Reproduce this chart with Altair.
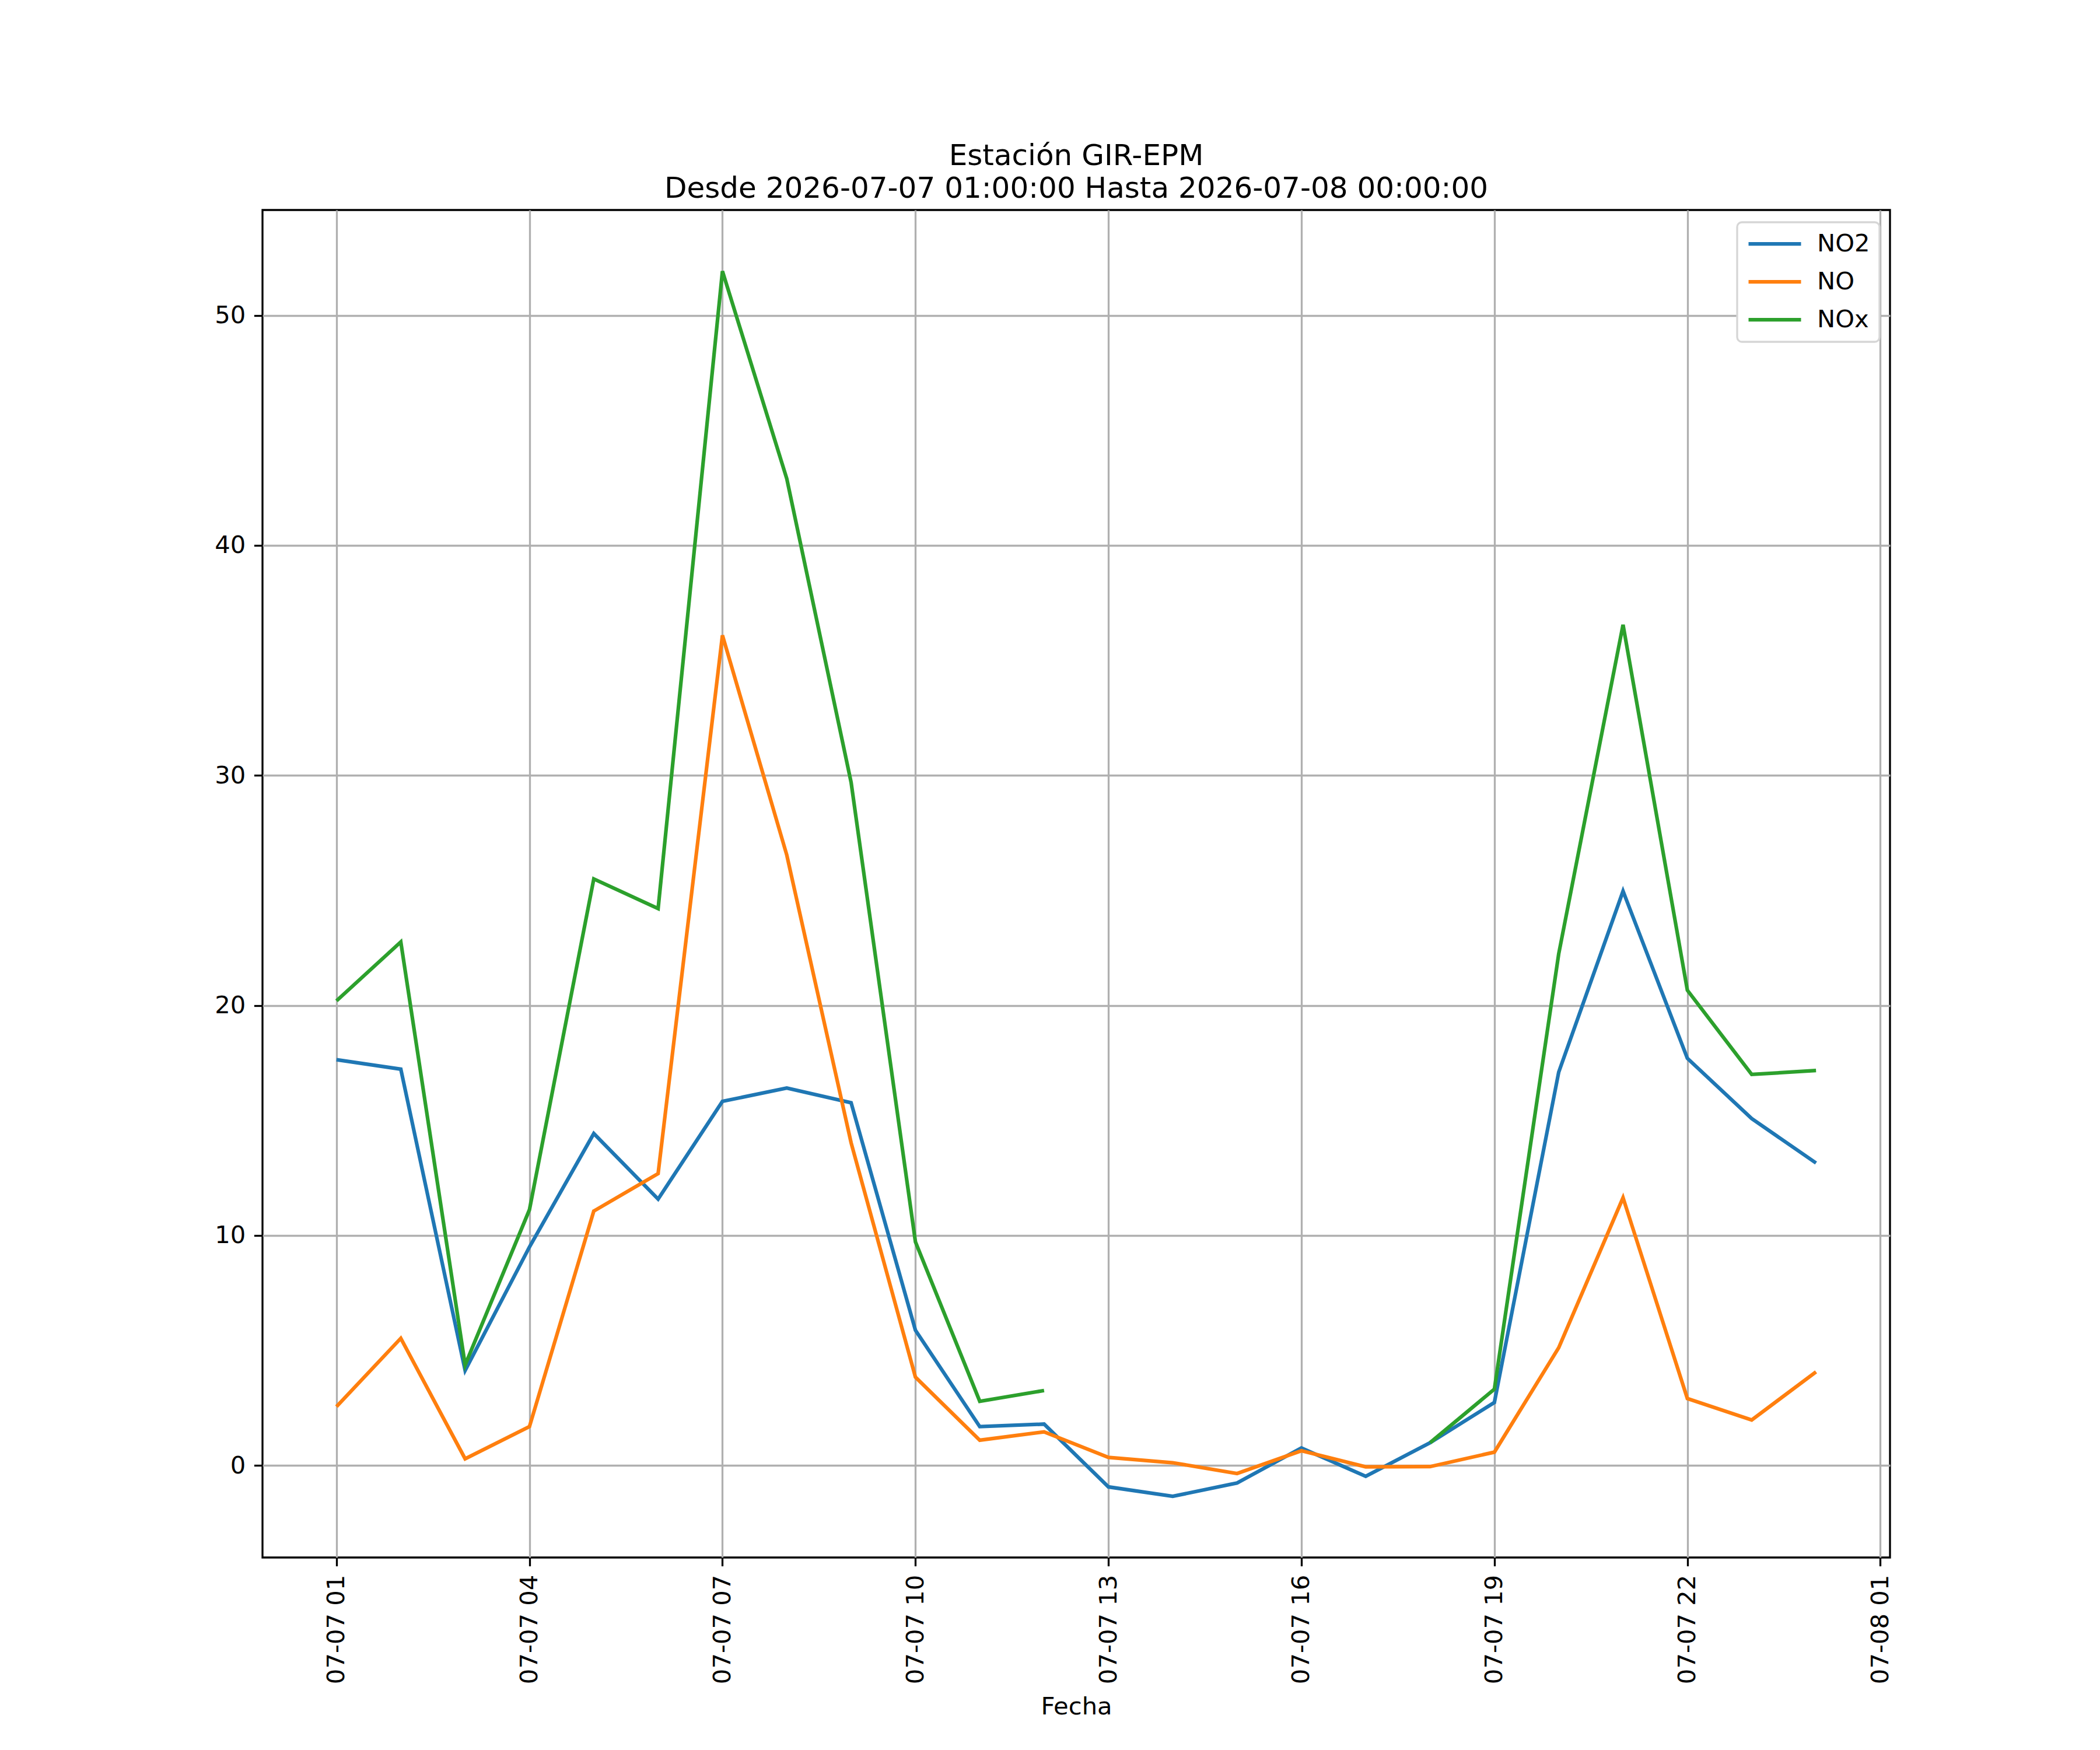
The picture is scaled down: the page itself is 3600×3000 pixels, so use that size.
import altair as alt
import pandas as pd

fechas = [
    "2026-07-07T01:00:00", "2026-07-07T02:00:00", "2026-07-07T03:00:00", "2026-07-07T04:00:00",
    "2026-07-07T05:00:00", "2026-07-07T06:00:00", "2026-07-07T07:00:00", "2026-07-07T08:00:00",
    "2026-07-07T09:00:00", "2026-07-07T10:00:00", "2026-07-07T11:00:00", "2026-07-07T12:00:00",
    "2026-07-07T13:00:00", "2026-07-07T14:00:00", "2026-07-07T15:00:00", "2026-07-07T16:00:00",
    "2026-07-07T17:00:00", "2026-07-07T18:00:00", "2026-07-07T19:00:00", "2026-07-07T20:00:00",
    "2026-07-07T21:00:00", "2026-07-07T22:00:00", "2026-07-07T23:00:00", "2026-07-08T00:00:00",
]
no2 = [17.64, 17.23, 4.13, 9.5, 14.43, 11.58, 15.83, 16.41, 15.77, 5.88, 1.69, 1.80,
       -0.93, -1.34, -0.76, 0.76, -0.47, 0.99, 2.74, 17.10, 24.97, 17.70, 15.08, 13.15]
no = [2.56, 5.53, 0.29, 1.69, 11.06, 12.69, 36.09, 26.54, 14.03, 3.84, 1.10, 1.46,
      0.35, 0.12, -0.35, 0.64, -0.06, -0.05, 0.58, 5.12, 11.64, 2.91, 1.98, 4.07]
nox = [20.20, 22.76, 4.37, 11.12, 25.50, 24.21, 51.92, 42.90, 29.70, 9.72, 2.79, 3.26,
       None, None, None, None, None, 0.99, 3.32, 22.24, 36.55, 20.66, 17.00, 17.17]

series = ["NO2", "NO", "NOx"]
colores = ["#1f77b4", "#ff7f0e", "#2ca02c"]
y_ticks = [0, 10, 20, 30, 40, 50]
titulo = ["Estación GIR-EPM", "Desde 2026-07-07 01:00:00 Hasta 2026-07-08 00:00:00"]

rows = []
for name, vals in zip(series, [no2, no, nox]):
    seg = 0
    prev_none = False
    for f, v in zip(fechas, vals):
        if v is None:
            prev_none = True
            continue
        if prev_none:
            seg += 1
            prev_none = False
        rows.append({"fecha": f, "serie": name, "valor": v, "seg": f"{name}-{seg}"})
df = pd.DataFrame(rows)

x_tick_values = [alt.DateTime(year=2026, month=7, date=7, hours=h) for h in [1, 4, 7, 10, 13, 16, 19, 22]]
x_tick_values.append(alt.DateTime(year=2026, month=7, date=8, hours=1))

x_domain = [
    alt.DateTime(year=2026, month=7, date=6, hours=23, minutes=51),
    alt.DateTime(year=2026, month=7, date=8, hours=1, minutes=9),
]

FONT = "DejaVu Sans"
LBL = 41.7

chart = alt.Chart(df).mark_line(strokeWidth=6.25).encode(
    x=alt.X("fecha:T",
            scale=alt.Scale(domain=x_domain, nice=False),
            axis=alt.Axis(values=x_tick_values, format="%m-%d %H", labelAngle=270,
                          title="Fecha", labelOverlap=False, labelFlush=False,
                          labelLimit=1000, titlePadding=35)),
    y=alt.Y("valor:Q",
            scale=alt.Scale(domain=[-4.0, 54.58], nice=False, zero=False),
            axis=alt.Axis(values=y_ticks, title=None, labelOverlap=False, labelFlush=False)),
    color=alt.Color("serie:N",
                    scale=alt.Scale(domain=series, range=colores),
                    legend=alt.Legend(title=None, orient="none", legendX=2528, legendY=21,
                                      symbolType="stroke", symbolSize=8100,
                                      symbolStrokeWidth=6.25, labelFontSize=LBL,
                                      labelFont=FONT, labelColor="black",
                                      fillColor="white", strokeColor="#d6d6d6",
                                      cornerRadius=8, padding=16, rowPadding=22,
                                      clipHeight=42, labelOffset=24)),
    detail="seg:N",
).properties(
    width=2790,
    height=2310,
    title=alt.TitleParams(text=titulo, fontSize=50, font=FONT, fontWeight="normal",
                          color="black", anchor="middle", offset=11, lineHeight=56),
    autosize=alt.AutoSizeParams(type="none"),
    padding={"left": 442, "top": 352, "right": 352, "bottom": 322},
).configure_view(
    stroke="black", strokeWidth=3.3
).configure_axis(
    domain=False, grid=True, gridColor="#b0b0b0", gridWidth=3.3,
    tickColor="black", tickWidth=3.3, tickSize=14.6, labelPadding=14.6,
    labelFont=FONT, labelFontSize=LBL, labelColor="black",
    titleFont=FONT, titleFontSize=LBL, titleFontWeight="normal", titleColor="black",
).configure_legend(
    strokeWidth=3.3
)

chart.save("out.html", embed_options={"renderer": "svg", "actions": False})
